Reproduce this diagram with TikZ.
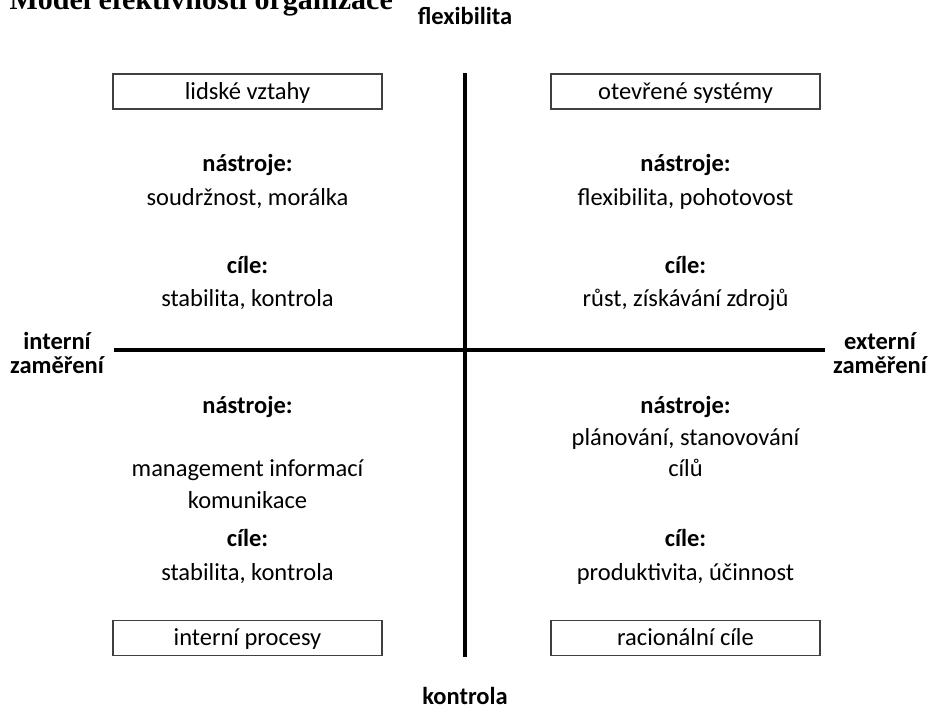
\documentclass[tikz,border=0pt]{standalone}
\usepackage{fontspec}
\setmainfont{Carlito}
\newfontfamily\titlefont{Liberation Serif}

\begin{document}
\begin{tikzpicture}[x=1pt,y=-1pt,
        box/.style={draw=black!75,line width=1.2pt,minimum width=269pt,minimum height=35pt,inner sep=0pt,text height=19pt,text depth=4pt,font=\fontsize{24.5}{29}\selectfont},
        head/.style={anchor=base,inner sep=0pt,font=\fontsize{24.5}{29}\selectfont\bfseries},
        txt/.style={anchor=base,inner sep=0pt,font=\fontsize{24.5}{29}\selectfont},
        axis/.style={line width=4pt}]
        \useasboundingbox (0,0) rectangle (931,717);
        \clip (0,0) rectangle (931,717);

        % title, cut off at the top
        \node[anchor=base east,inner sep=0pt,font=\titlefont\fontsize{30}{34}\selectfont\bfseries] (title) at (393,10) {. Model efektivnosti organizace};

        % axes
        \coordinate (top) at (465,73);
        \coordinate (bottom) at (465,657);
        \coordinate (left) at (114,350);
        \coordinate (right) at (825,350);
        \draw[axis] (top) -- (bottom);
        \draw[axis] (left) -- (right);

        \node[head] (flex) at (465,25) {flexibilita};
        \node[head] (kontr) at (465,704) {kontrola};
        \node[head] (int1) at (57,349) {interní};
        \node[head] (int2) at (57,373) {zaměření};
        \node[head] (ext1) at (880,349) {externí};
        \node[head] (ext2) at (880,373) {zaměření};

        % quadrant boxes
        \node[box] (lv) at (247.5,91.5) {lidské vztahy};
        \node[box] (os) at (685.5,91.5) {otevřené systémy};
        \node[box] (ip) at (247.5,638) {interní procesy};
        \node[box] (rc) at (685.5,638) {racionální cíle};

        % top left
        \node[head] (lvn) at (247.5,171) {nástroje:};
        \node[txt] (lvnt) at (247.5,205) {soudržnost, morálka};
        \node[head] (lvc) at (247.5,273) {cíle:};
        \node[txt] (lvct) at (247.5,306) {stabilita, kontrola};

        % top right
        \node[head] (osn) at (685.5,171) {nástroje:};
        \node[txt] (osnt) at (685.5,205) {flexibilita, pohotovost};
        \node[head] (osc) at (685.5,273) {cíle:};
        \node[txt] (osct) at (685.5,306) {růst, získávání zdrojů};

        % bottom left
        \node[head] (ipn) at (247.5,413) {nástroje:};
        \node[txt] (ipnt1) at (247.5,476) {management informací};
        \node[txt] (ipnt2) at (247.5,508) {komunikace};
        \node[head] (ipc) at (247.5,546) {cíle:};
        \node[txt] (ipct) at (247.5,580) {stabilita, kontrola};

        % bottom right
        \node[head] (rcn) at (685.5,413) {nástroje:};
        \node[txt] (rcnt1) at (685.5,445) {plánování, stanovování};
        \node[txt] (rcnt2) at (685.5,476) {cílů};
        \node[head] (rcc) at (685.5,546) {cíle:};
        \node[txt] (rcct) at (685.5,580) {produktivita, účinnost};
\end{tikzpicture}
\end{document}
